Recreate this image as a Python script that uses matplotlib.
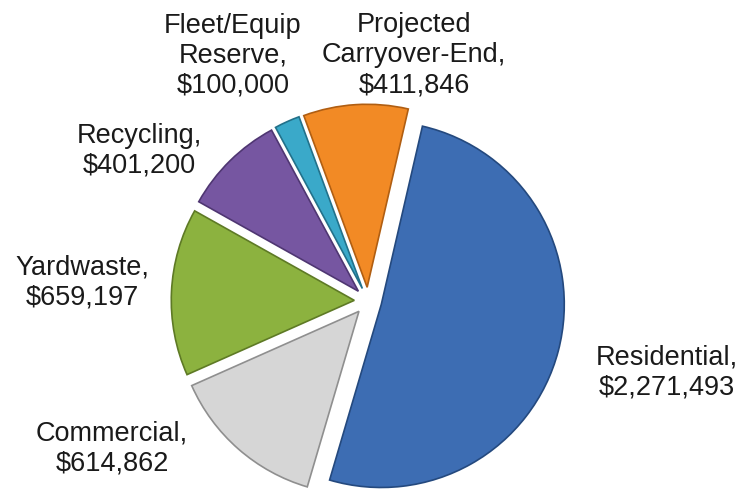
import matplotlib.pyplot as plt
import numpy as np

# slice data, in clockwise order starting from the top
categories = ['Residential', 'Commercial', 'Yardwaste', 'Recycling',
              'Fleet/Equip\nReserve', 'Projected\nCarryover-End']
amounts = [2271493, 614862, 659197, 401200, 100000, 411846]

colors = ['#3d6db3', '#d6d6d6', '#8cb23f', '#7656a1', '#3aa9c9', '#f28a25']
edges = ['#24497e', '#8f8f8f', '#5e7a25', '#4f3672', '#22718a', '#b05e12']

# label block centres in pixels (x from left, y from top)
label_px = [(667, 373), (112, 449), (82, 283), (139, 151), (233, 56), (414, 55)]

W, H = 740, 491
cx, cy, r = 368, 301, 183   # pie centre and radius in pixels

fig = plt.figure(figsize=(W / 100, H / 100), dpi=100)
ax = fig.add_axes([0, 0, 1, 1])

wedges, _ = ax.pie(amounts, colors=colors, startangle=77, counterclock=False,
                   explode=[0.075] * len(amounts), radius=1,
                   wedgeprops=dict(linewidth=1.2))
for w, ec in zip(wedges, edges):
    w.set_edgecolor(ec)

ax.set_aspect('auto')
ax.set_xlim(-cx / r, (W - cx) / r)
ax.set_ylim(-(H - cy) / r, cy / r)
ax.axis('off')

for name, amt, (px, py) in zip(categories, amounts, label_px):
    x = (px - cx) / r
    y = (cy - py) / r
    ax.text(x, y, f'{name},\n${amt:,}', ha='center', va='center',
            fontsize=19.5, family='Liberation Sans', color='#1a1a1a',
            linespacing=1.2)

fig.savefig('out.png', dpi=100)
